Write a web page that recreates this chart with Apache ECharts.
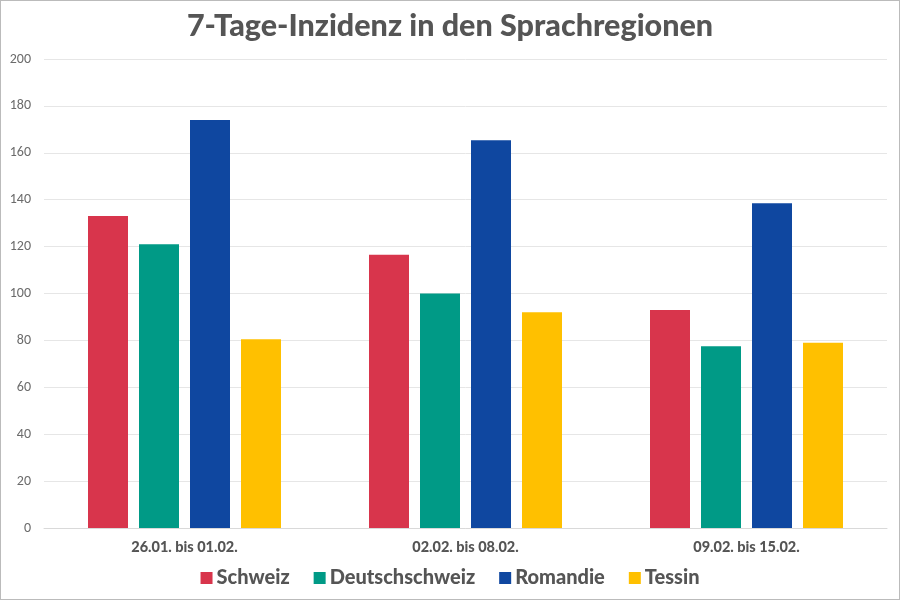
<!DOCTYPE html>
<html><head><meta charset="utf-8">
<script src="https://cdn.jsdelivr.net/npm/echarts@6/dist/echarts.min.js"></script>
<style>html,body{margin:0;padding:0;background:#fff}#c{width:900px;height:600px;box-sizing:border-box;border:1px solid #bbb}</style>
</head><body><div id="c"></div>
<script>
const categories = ['26.01. bis 01.02.', '02.02. bis 08.02.', '09.02. bis 15.02.'];
const schweiz = [133, 116.5, 93];
const deutschschweiz = [121, 100, 77.5];
const romandie = [174, 165.3, 138.5];
const tessin = [80.5, 92, 79];
const seriesNames = ['Schweiz', 'Deutschschweiz', 'Romandie', 'Tessin'];
const colors = ['#D8354C', '#009A86', '#0F47A0', '#FFC000'];
const values = [schweiz, deutschschweiz, romandie, tessin];

const chart = echarts.init(document.getElementById('c'));
chart.setOption({
  animation: false,
  textStyle: { fontFamily: 'Lato' },
  title: {
    text: '7-Tage-Inzidenz in den Sprachregionen',
    left: 'center', top: 5,
    textStyle: { fontFamily: 'Lato', fontSize: 30.5, fontWeight: 900, color: '#555555' }
  },
  legend: {
    bottom: 6, left: 'center',
    itemWidth: 12, itemHeight: 12, itemGap: 24, icon: 'rect',
    textStyle: { fontFamily: 'Lato', fontSize: 20, fontWeight: 900, color: '#555555', padding: [0, 0, 0, -1] },
    data: seriesNames
  },
  grid: { left: 43, right: 12, top: 58, bottom: 71, containLabel: false },
  xAxis: {
    type: 'category', data: categories,
    axisLine: { lineStyle: { color: '#d9d9d9' } },
    axisTick: { show: false },
    axisLabel: { fontFamily: 'Lato', fontSize: 14.5, fontWeight: 900, color: '#555555', margin: 12 }
  },
  yAxis: {
    type: 'value', min: 0, max: 200, interval: 20,
    axisLine: { show: false }, axisTick: { show: false },
    splitLine: { lineStyle: { color: '#e6e6e6' } },
    axisLabel: { fontFamily: 'Carlito, Calibri, Liberation Sans', fontSize: 14, color: '#6b6b6b', margin: 13 }
  },
  series: values.map((v, i) => ({
    name: seriesNames[i], type: 'bar', data: v,
    barWidth: 40, barGap: '27.5%',
    itemStyle: { color: colors[i] }
  }))
});
</script></body></html>
